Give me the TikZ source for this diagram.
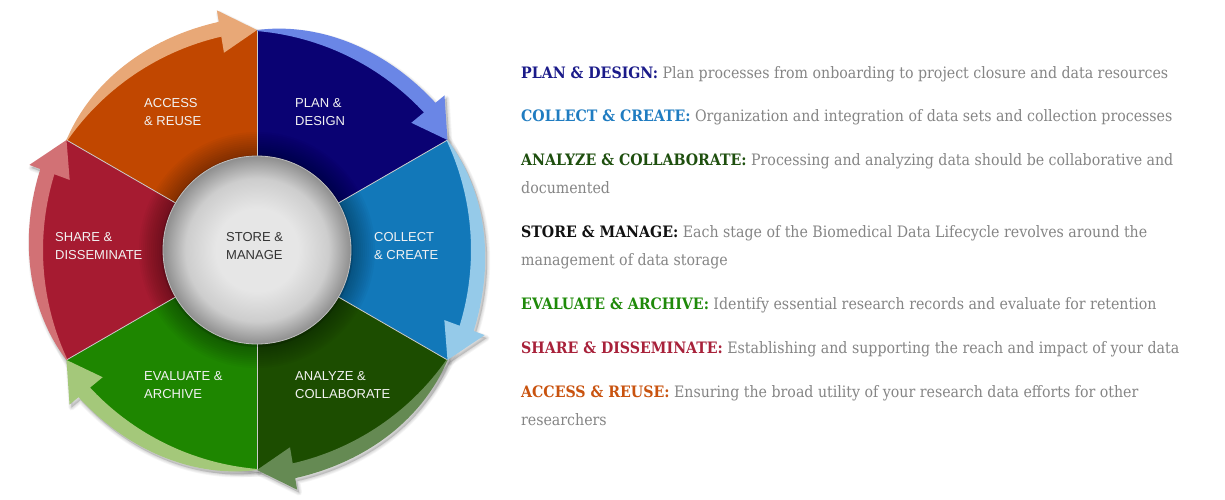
\documentclass[tikz,border=0pt]{standalone}
\usepackage{fontspec}
\setmainfont{DejaVu Serif Condensed}
\newfontfamily\wheelfont{Liberation Sans}
\usetikzlibrary{calc}
\definecolor{plansec}{HTML}{0A0273}\definecolor{planarr}{HTML}{6A86E6}
\definecolor{collsec}{HTML}{1278B9}\definecolor{collarr}{HTML}{95CAE9}
\definecolor{analsec}{HTML}{1C4D00}\definecolor{analarr}{HTML}{658A53}
\definecolor{evalsec}{HTML}{1E8600}\definecolor{evalarr}{HTML}{A4C87A}
\definecolor{sharsec}{HTML}{A61B31}\definecolor{shararr}{HTML}{D27175}
\definecolor{accsec}{HTML}{C14700}\definecolor{accarr}{HTML}{E8A877}
\definecolor{plantxt}{HTML}{1B1B8A}\definecolor{colltxt}{HTML}{1F7CC1}
\definecolor{analtxt}{HTML}{1E4F0E}\definecolor{storetxt}{HTML}{111111}
\definecolor{evaltxt}{HTML}{1F8A0A}\definecolor{shartxt}{HTML}{A8213A}
\definecolor{acctxt}{HTML}{C9530F}\definecolor{bodytxt}{HTML}{858585}
\definecolor{hubc}{HTML}{E6E6E6}\definecolor{hubm}{HTML}{CDCDCD}
\definecolor{hube}{HTML}{8E8E8E}
\pgfdeclareradialshading{hubball}{\pgfpoint{0bp}{0bp}}%
  {color(0bp)=(hubc); color(11bp)=(hubc); color(19bp)=(hubm); color(25bp)=(hube); color(50bp)=(hube)}
% arrow along the rim of the sector with bisector #1, running clockwise
\newcommand{\arrowshape}[1]{%
  plot[domain=0:1,samples=40] ({#1+30-50.5*\x}:{rim(30-50.5*\x)+wid(\x)})
  -- ({#1-20.5}:243) -- ({#1-30}:{rim(-30)}) -- ({#1-20.5}:200)
  -- plot[domain=1:0,samples=40] ({#1+30-50.5*\x}:{rim(30-50.5*\x)-1}) -- cycle}

\begin{document}
\begin{tikzpicture}[x=1pt,y=1pt,
  declare function={rim(\t)=10*(-4.4*cos(\t)+sqrt(19.36*cos(\t)*cos(\t)+651.45));
                    wid(\u)=14*(1-(1-\u)*(1-\u)*(1-\u));},
  seclbl/.style={anchor=west,align=left,text=white!95!black,
    font=\wheelfont\fontsize{13}{18}\selectfont,inner sep=0pt},
  desc/.style={anchor=base west,align=left,text=bodytxt,
    font=\fontsize{15.75}{28}\selectfont,inner sep=0pt},
  divider/.style={draw=white!80!black,line width=.8pt}]
 \fill[white] (0,0) rectangle (1225,-500);
 \useasboundingbox (0,0) rectangle (1225,-500);
 % soft shadow
 \begin{scope}[shift={(259,-253)}]
  \foreach \k in {1,...,4}
   {\fill[black,opacity=.04] (0,0) circle ({216+2*\k});
    \foreach \b in {60,0,-60,-120,180,120}
     \path[fill=black,draw=black,opacity=.035,line width=\k*1.5,line join=round] \arrowshape{\b};}
 \end{scope}
 % wheel
 \begin{scope}[shift={(257,-250)}]
  \foreach \b/\c in {60/plansec,0/collsec,-60/analsec,-120/evalsec,180/sharsec,120/accsec}
   \fill[\c] (0,0) -- plot[domain=30:-30,samples=40] ({\b+\x}:{rim(\x)}) -- cycle;
  \foreach \r in {96,98,...,118}
   \fill[black,opacity=.028] (0,0) circle (\r);
  \foreach \a in {90,30,...,-210}
   \draw[divider] (0,0) -- (\a:{rim(30)});
  \foreach \b/\c in {60/planarr,0/collarr,-60/analarr,-120/evalarr,180/shararr,120/accarr}
   \fill[\c] \arrowshape{\b};
  \fill[black,opacity=.12] (0,-1) circle (96);
  \shade[shading=hubball,draw=white!75!black,line width=.8pt] (0,0) circle (94);
 \end{scope}
 \node[seclbl] (plan) at (295,-112) {PLAN \&\\DESIGN};
 \node[seclbl] (collect) at (374,-246) {COLLECT\\\& CREATE};
 \node[seclbl] (analyze) at (295,-385) {ANALYZE \&\\COLLABORATE};
 \node[seclbl] (evaluate) at (144,-385) {EVALUATE \&\\ARCHIVE};
 \node[seclbl] (share) at (55,-246) {SHARE \&\\DISSEMINATE};
 \node[seclbl] (access) at (144,-112) {ACCESS\\\& REUSE};
 \node[seclbl,text=black!80] (store) at (226,-246) {STORE \&\\MANAGE};
 % descriptions (two-line ones sit on their last baseline)
 \node[desc] (plandesc) at (521,-78.5) {\textcolor{plantxt}{\bfseries PLAN \& DESIGN:} Plan processes from onboarding to project closure and data resources};
 \node[desc] (colldesc) at (521,-121.5) {\textcolor{colltxt}{\bfseries COLLECT \& CREATE:} Organization and integration of data sets and collection processes};
 \node[desc] (analdesc) at (521,-193.5) {\textcolor{analtxt}{\bfseries ANALYZE \& COLLABORATE:} Processing and analyzing data should be collaborative and\\documented};
 \node[desc] (storedesc) at (521,-265.5) {\textcolor{storetxt}{\bfseries STORE \& MANAGE:} Each stage of the Biomedical Data Lifecycle revolves around the\\management of data storage};
 \node[desc] (evaldesc) at (521,-309.5) {\textcolor{evaltxt}{\bfseries EVALUATE \& ARCHIVE:} Identify essential research records and evaluate for retention};
 \node[desc] (shardesc) at (521,-353.5) {\textcolor{shartxt}{\bfseries SHARE \& DISSEMINATE:} Establishing and supporting the reach and impact of your data};
 \node[desc] (accdesc) at (521,-425.5) {\textcolor{acctxt}{\bfseries ACCESS \& REUSE:} Ensuring the broad utility of your research data efforts for other\\researchers};
\end{tikzpicture}
\end{document}
